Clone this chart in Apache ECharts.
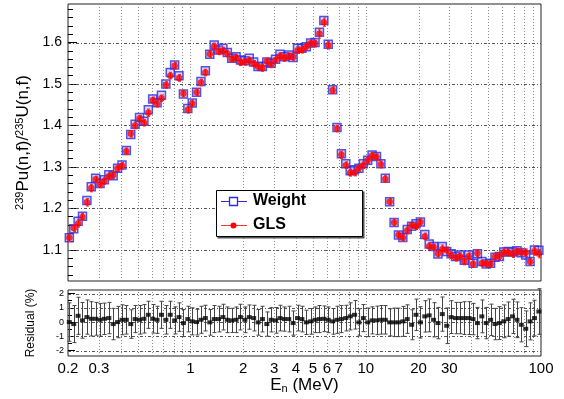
<!DOCTYPE html>
<html><head><meta charset="utf-8">
<script src="https://cdn.jsdelivr.net/npm/echarts@6/dist/echarts.min.js"></script>
<style>html,body{margin:0;padding:0;background:#fff}#c{width:564px;height:399px}</style>
</head><body><div id="c"></div>
<script>
// ---- data ----
const energy = [0.2035,0.2157,0.2284,0.2419,0.2563,0.2715,0.2876,0.3047,0.3228,0.3420,
0.3622,0.3837,0.4065,0.4306,0.4562,0.4832,0.5119,0.5423,0.5745,0.6086,
0.6447,0.6829,0.7235,0.7664,0.8119,0.8601,0.9112,0.9654,1.023,1.083,
1.148,1.216,1.288,1.365,1.445,1.531,1.622,1.718,1.820,1.928,
2.043,2.164,2.293,2.429,2.573,2.725,2.887,3.058,3.240,3.432,
3.636,3.851,4.080,4.322,4.579,4.850,5.137,5.443,5.766,6.109,
6.471,6.855,7.263,7.693,8.151,8.634,9.145,9.690,10.26,10.87,
11.52,12.20,12.93,13.69,14.51,15.37,16.28,17.25,18.27,19.36,
20.50,21.72,23.01,24.37,25.82,27.35,28.97,30.70,32.52,34.45,
36.49,38.65,40.95,43.38,45.96,48.69,51.57,54.64,57.88,61.32,
64.95,68.80,72.90,77.22,81.81,86.66,91.79,97.25];

const weight = [1.129,1.151,1.169,1.181,1.219,1.252,1.273,1.260,1.269,1.281,
1.279,1.297,1.305,1.340,1.378,1.403,1.419,1.410,1.438,1.464,
1.455,1.473,1.500,1.528,1.546,1.520,1.476,1.441,1.454,1.480,
1.506,1.532,1.572,1.594,1.582,1.586,1.576,1.562,1.566,1.558,
1.556,1.562,1.553,1.542,1.542,1.553,1.550,1.560,1.572,1.566,
1.570,1.564,1.586,1.586,1.590,1.599,1.600,1.625,1.653,1.596,
1.486,1.395,1.332,1.308,1.291,1.293,1.297,1.308,1.316,1.329,
1.325,1.308,1.273,1.216,1.166,1.136,1.130,1.149,1.157,1.163,
1.167,1.137,1.114,1.108,1.090,1.108,1.096,1.091,1.084,1.088,
1.075,1.088,1.068,1.091,1.072,1.066,1.068,1.082,1.084,1.095,
1.096,1.095,1.098,1.093,1.088,1.072,1.100,1.099];

const ratioErr = [0.009,0.008,0.009,0.008,0.009,0.009,0.008,0.008,0.008,0.008,
0.008,0.008,0.008,0.008,0.008,0.008,0.008,0.008,0.009,0.008,
0.008,0.008,0.008,0.008,0.008,0.008,0.008,0.008,0.008,0.008,
0.008,0.008,0.008,0.008,0.008,0.008,0.008,0.008,0.008,0.008,
0.008,0.008,0.008,0.008,0.008,0.008,0.008,0.008,0.008,0.008,
0.008,0.008,0.008,0.008,0.008,0.008,0.008,0.011,0.010,0.009,
0.008,0.008,0.009,0.008,0.008,0.008,0.008,0.008,0.008,0.008,
0.008,0.008,0.008,0.008,0.008,0.008,0.008,0.008,0.008,0.008,
0.008,0.008,0.008,0.008,0.008,0.010,0.008,0.008,0.008,0.008,
0.008,0.008,0.008,0.008,0.008,0.008,0.008,0.008,0.008,0.009,
0.008,0.009,0.008,0.009,0.009,0.008,0.010,0.010];

const residual = [0.00,-0.14,0.44,0.12,0.35,0.23,0.23,0.16,0.23,0.28,
-0.14,0.00,0.16,0.16,-0.14,0.21,0.16,0.23,0.51,0.23,
0.16,0.51,0.16,0.51,0.12,0.35,-0.07,0.21,0.05,0.00,
0.16,0.28,-0.02,0.21,0.21,0.35,0.16,0.12,0.16,0.35,
0.16,0.35,0.28,-0.02,0.21,-0.14,0.16,0.12,0.28,
0.21,0.21,-0.07,0.28,0.21,-0.02,0.05,0.16,0.21,0.23,
0.16,0.05,0.16,0.21,0.28,0.40,0.51,-0.02,0.28,-0.02,
0.12,0.12,0.16,0.16,-0.02,-0.02,-0.02,0.05,0.21,-0.19,
0.51,-0.02,0.40,0.47,0.16,-0.07,0.56,-0.26,0.35,0.28,
0.28,0.28,0.28,0.21,-0.07,0.40,-0.07,0.16,-0.14,-0.07,
0.05,0.21,0.40,0.16,-0.19,-0.47,0.05,0.28,0.74];

const residualErr = [1.35,1.3,1.3,1.25,1.2,1.2,1.15,1.15,1.1,1.1,1.1,1.1,
1.05,1.0,1.0,0.95,1.0,1.0,0.95,1.0,0.95,0.95,1.0,0.95,0.95,1.0,0.95,0.9,0.95,0.9,0.95,
0.9,0.9,0.95,0.9,0.9,0.9,0.85,0.9,0.9,0.9,0.85,0.9,0.9,0.9,0.85,0.85,0.9,0.9,0.85,0.9,0.85,0.9,0.9,0.85,0.9,0.9,0.95,0.9,0.9,0.9,
0.95,0.95,0.9,0.95,1.0,0.95,0.95,1.0,0.95,1.0,1.0,1.0,0.95,1.0,1.0,1.05,1.0,1.05,1.1,
1.1,1.1,1.15,1.2,1.1,1.2,1.25,1.15,1.1,1.1,1.15,1.15,1.1,1.1,1.15,1.1,1.1,1.1,1.15,1.15,1.2,1.2,1.25,1.2,1.25,1.3,1.25,1.6];

const xTickLabels = [0.2,0.3,1,2,3,4,5,6,7,10,20,30,100];
const xGridValues = [0.3,0.4,0.5,0.6,0.7,0.8,0.9,1,2,3,4,5,6,7,8,9,10,20,30,40,50,60,70,80,90];
const yMajor = [1.1,1.2,1.3,1.4,1.5,1.6];
const yMinor = [1.04,1.06,1.08,1.12,1.14,1.16,1.18,1.22,1.24,1.26,1.28,1.32,1.34,1.36,1.38,
1.42,1.44,1.46,1.48,1.52,1.54,1.56,1.58,1.62,1.64,1.66,1.68];
const rMajor = [-2,-1,0,1,2];
const rMinor = [-1.5,-0.5,0.5,1.5];

// GLS derived from Weight and the plotted residual (Weight-GLS)/GLS in %
const gls = weight.map((w,i)=> w/(1+residual[i]/100));

// ---- chart ----
const FONT = 'Liberation Sans, Arial, Helvetica, sans-serif';
const Y0 = [1.025, 1.693];
const Y1 = [-2.38, 2.25];
const chart = echarts.init(document.getElementById('c'));

function errBar(color, cap, lw){
  return function(params, api){
    const x=api.value(0), y=api.value(1), e=api.value(2);
    const lo=api.coord([x,y-e]), hi=api.coord([x,y+e]);
    const cx=Math.round(lo[0])+0.5;
    const st={stroke:color,lineWidth:lw};
    return {type:'group', children:[
      {type:'line', shape:{x1:cx,y1:lo[1],x2:cx,y2:hi[1]}, style:st},
      {type:'line', shape:{x1:cx-cap,y1:lo[1],x2:cx+cap,y2:lo[1]}, style:st},
      {type:'line', shape:{x1:cx-cap,y1:hi[1],x2:cx+cap,y2:hi[1]}, style:st}
    ]};
  };
}
function vGrid(ext){
  return function(params, api){
    const v=api.value(0);
    const a=api.coord([v,ext[0]]), b=api.coord([v,ext[1]]);
    const x=Math.round(a[0])+0.5;
    return {type:'line', shape:{x1:x,y1:a[1],x2:x,y2:b[1]}, style:{stroke:'#8a8a8a',lineWidth:1,lineDash:[1,2]}};
  };
}
function hGrid(params, api){
  const v=api.value(1);
  const a=api.coord([0.2,v]), b=api.coord([100,v]);
  const y=Math.round(a[1])+0.5;
  return {type:'line', shape:{x1:a[0],y1:y,x2:b[0],y2:y}, style:{stroke:'#555',lineWidth:1,lineDash:[3,2,1,2]}};
}
function fmtTick(v){ return String(v); }

const xBase = {type:'log', logBase:10, min:0.2, max:100, axisLine:{show:false}, axisTick:{show:false}, axisLabel:{show:false}, splitLine:{show:false}};

const option = {
  animation:false,
  backgroundColor:'#fff',
  grid:[
    {left:68, top:4, width:473, height:277, show:true, borderColor:'#222', borderWidth:1, backgroundColor:'#fff'},
    {left:68, top:290, width:473, height:66, show:true, borderColor:'#222', borderWidth:1, backgroundColor:'#fff'}
  ],
  xAxis:[
    Object.assign({gridIndex:0}, xBase),
    Object.assign({gridIndex:1, name:'{e|E}{n|n}{e| (MeV)}', nameLocation:'middle', nameGap:21,
      nameTextStyle:{fontFamily:FONT, color:'#000', rich:{
        e:{fontFamily:FONT, fontSize:17, lineHeight:17, verticalAlign:'top', color:'#000'},
        n:{fontFamily:FONT, fontSize:11, lineHeight:11, verticalAlign:'bottom', padding:[9,0,0,0], color:'#000'}}}}, xBase)
  ],
  yAxis:[
    {gridIndex:0, type:'value', min:Y0[0], max:Y0[1], position:'left',
      axisLine:{show:false}, splitLine:{show:false},
      axisTick:{show:true, inside:true, length:9, customValues:yMajor, lineStyle:{color:'#000'}},
      axisLabel:{customValues:yMajor, fontSize:14, margin:6, color:'#000', fontFamily:FONT},
      name:'{s|239}{m|Pu(n,f)/}{s|235}{m|U(n,f)}', nameLocation:'middle', nameRotate:90, nameGap:36,
      nameTextStyle:{fontFamily:FONT, color:'#000', rich:{
        s:{fontFamily:FONT, fontSize:11, lineHeight:11, verticalAlign:'top', color:'#000'},
        m:{fontFamily:FONT, fontSize:17, lineHeight:17, verticalAlign:'bottom', padding:[5,0,0,0], color:'#000'}}}},
    {gridIndex:0, type:'value', min:Y0[0], max:Y0[1], position:'left',
      axisLine:{show:false}, splitLine:{show:false}, axisLabel:{show:false},
      axisTick:{show:true, inside:true, length:5, customValues:yMinor, lineStyle:{color:'#000'}}},
    {gridIndex:1, type:'value', min:Y1[0], max:Y1[1], position:'left',
      axisLine:{show:false}, splitLine:{show:false},
      axisTick:{show:true, inside:true, length:7, customValues:rMajor, lineStyle:{color:'#000'}},
      axisLabel:{customValues:rMajor, fontSize:9, margin:4, color:'#000', fontFamily:FONT},
      name:'Residual (%)', nameLocation:'middle', nameRotate:90, nameGap:31,
      nameTextStyle:{fontFamily:FONT, fontSize:12, color:'#000'}},
    {gridIndex:1, type:'value', min:Y1[0], max:Y1[1], position:'left',
      axisLine:{show:false}, splitLine:{show:false}, axisLabel:{show:false},
      axisTick:{show:true, inside:true, length:4, customValues:rMinor, lineStyle:{color:'#000'}}}
  ],
  series:[
    {type:'custom', xAxisIndex:0, yAxisIndex:0, silent:true, z:1, renderItem:vGrid(Y0),
      data:xGridValues.map(v=>[v,Y0[0]]), encode:{x:0,y:1}},
    {type:'custom', xAxisIndex:0, yAxisIndex:0, silent:true, z:1, renderItem:hGrid,
      data:yMajor.map(v=>[1,v]), encode:{x:0,y:1}},
    {type:'custom', xAxisIndex:1, yAxisIndex:2, silent:true, z:1, renderItem:vGrid(Y1),
      data:xGridValues.map(v=>[v,Y1[0]]), encode:{x:0,y:1}},
    {type:'custom', xAxisIndex:1, yAxisIndex:2, silent:true, z:1, renderItem:hGrid,
      data:rMajor.map(v=>[1,v]), encode:{x:0,y:1}},
    {name:'Weight', type:'scatter', xAxisIndex:0, yAxisIndex:0, z:3, symbol:'rect', symbolSize:8,
      itemStyle:{color:'rgba(110,110,255,0.35)', borderColor:'#2a2ae0', borderWidth:1.5},
      data:energy.map((e,i)=>[e,weight[i]])},
    {type:'custom', xAxisIndex:0, yAxisIndex:0, z:4, silent:true, renderItem:errBar('#ff2020',1.5,1),
      data:energy.map((e,i)=>[e,gls[i],ratioErr[i]]), encode:{x:0,y:1}},
    {name:'GLS', type:'scatter', xAxisIndex:0, yAxisIndex:0, z:5, symbol:'circle', symbolSize:6.5,
      itemStyle:{color:'#ff0000'},
      data:energy.map((e,i)=>[e,gls[i]])},
    {type:'custom', xAxisIndex:1, yAxisIndex:2, z:4, silent:true, renderItem:errBar('#444',2,1),
      data:energy.map((e,i)=>[e,residual[i],residualErr[i]]), encode:{x:0,y:1}},
    {name:'Residual', type:'scatter', xAxisIndex:1, yAxisIndex:2, z:5, symbol:'rect', symbolSize:[5,4],
      itemStyle:{color:'#000'},
      data:energy.map((e,i)=>[e,residual[i]])},
    {type:'custom', xAxisIndex:1, yAxisIndex:2, z:6, silent:true, clip:false,
      renderItem:function(params, api){
        const v=api.value(0);
        const p=api.coord([v,Y1[0]]);
        return {type:'text', x:p[0], y:p[1]+13,
          style:{text:fmtTick(v), textAlign:'center', textVerticalAlign:'middle', font:'15px '+FONT, fill:'#000'}};
      },
      data:xTickLabels.map(v=>[v,Y1[0]]), encode:{x:0,y:1}}
  ],
  graphic:[
    {type:'rect', shape:{x:217.5, y:191.5, width:147, height:47}, style:{fill:'#555'}, z:100},
    {type:'rect', shape:{x:216.5, y:190.5, width:146, height:46}, style:{fill:'#fff', stroke:'#000', lineWidth:1}, z:101},
    {type:'line', shape:{x1:221, y1:201.5, x2:247, y2:201.5}, style:{stroke:'#2a2ae0', lineWidth:1}, z:102},
    {type:'rect', shape:{x:229.5, y:197.5, width:8, height:8}, style:{fill:'#fff', stroke:'#2a2ae0', lineWidth:1.3}, z:103},
    {type:'text', x:253, y:201, style:{text:'Weight', font:'bold 16px '+FONT, fill:'#000', textVerticalAlign:'middle'}, z:103},
    {type:'line', shape:{x1:221, y1:225.5, x2:247, y2:225.5}, style:{stroke:'#ff3030', lineWidth:1}, z:102},
    {type:'circle', shape:{cx:233.5, cy:225.5, r:3}, style:{fill:'#ff0000'}, z:103},
    {type:'text', x:253, y:225, style:{text:'GLS', font:'bold 16px '+FONT, fill:'#000', textVerticalAlign:'middle'}, z:103}
  ]
};
chart.setOption(option);
</script>
</body></html>
